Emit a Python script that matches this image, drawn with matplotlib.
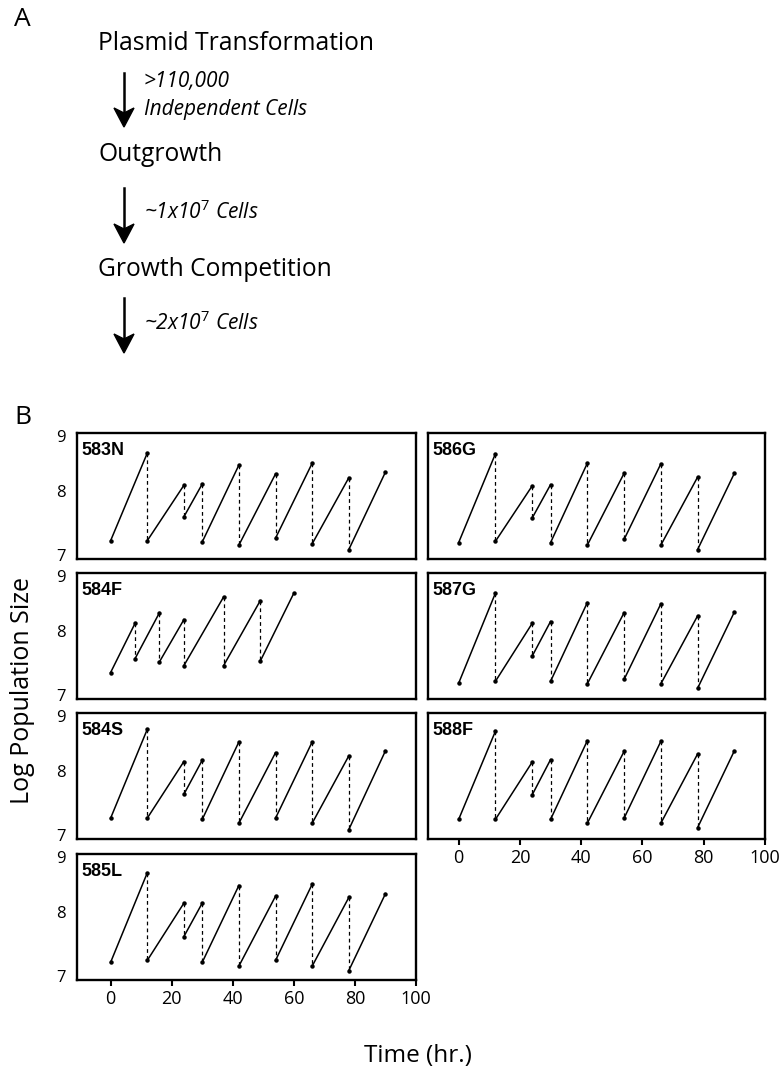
import numpy as np
import matplotlib.pyplot as plt
from matplotlib.transforms import ScaledTranslation

plt.rcParams['mathtext.fontset'] = 'custom'
plt.rcParams['mathtext.rm'] = 'Open Sans'
plt.rcParams['mathtext.it'] = 'Open Sans:italic'

W, H = 781, 1076

# sampling times (hr.)
times = [0, 12, 24, 30, 42, 54, 66, 78, 90]
times_584F = [0, 8, 16, 24, 37, 49, 60]

# log population right after each dilution (start of each growth period)
low_583N = [7.29, 7.29, 7.67, 7.27, 7.22, 7.33, 7.24, 7.15]
low_584F = [7.42, 7.64, 7.59, 7.53, 7.53, 7.60]
low_584S = [7.33, 7.33, 7.71, 7.31, 7.25, 7.33, 7.25, 7.15]
low_585L = [7.28, 7.31, 7.69, 7.28, 7.22, 7.31, 7.22, 7.15]
low_586G = [7.26, 7.28, 7.65, 7.26, 7.22, 7.31, 7.22, 7.15]
low_587G = [7.25, 7.28, 7.68, 7.28, 7.24, 7.31, 7.24, 7.17]
low_588F = [7.31, 7.31, 7.70, 7.31, 7.25, 7.33, 7.25, 7.18]

# log population at the end of each growth period (before dilution)
high_583N = [8.68, 8.17, 8.19, 8.49, 8.35, 8.52, 8.29, 8.38]
high_584F = [8.20, 8.37, 8.26, 8.62, 8.56, 8.68]
high_584S = [8.74, 8.23, 8.25, 8.54, 8.37, 8.54, 8.32, 8.40]
high_585L = [8.70, 8.22, 8.22, 8.50, 8.33, 8.52, 8.31, 8.37]
high_586G = [8.67, 8.16, 8.18, 8.52, 8.36, 8.51, 8.30, 8.36]
high_587G = [8.68, 8.20, 8.23, 8.53, 8.37, 8.51, 8.32, 8.38]
high_588F = [8.71, 8.22, 8.26, 8.56, 8.39, 8.55, 8.35, 8.40]

strains = ['583N', '584F', '584S', '585L', '586G', '587G', '588F']
lows = [low_583N, low_584F, low_584S, low_585L, low_586G, low_587G, low_588F]
highs = [high_583N, high_584F, high_584S, high_585L, high_586G, high_587G, high_588F]
strain_times = [times, times_584F, times, times, times, times, times]

fig = plt.figure(figsize=(W / 100, H / 100), dpi=100)


def px_axes(l, t, r, b):
    return fig.add_axes([l / W, 1 - b / H, (r - l) / W, (b - t) / H])


def fy(y):
    return 1 - y / H


rows = [(433, 559), (573, 699), (713, 839), (854, 980)]
cols = [(77, 416, -11), (428, 765, -10)]

slots = [(0, 0), (0, 1), (0, 2), (0, 3), (1, 0), (1, 1), (1, 2)]
bottom = {(0, 3), (1, 2)}
# vertical nudges (px, + is up) for the 7 / 8 / 9 labels so stacked panels don't collide
nudge = [4, 5, -3]

for name, lo, hi, t, (c, r) in zip(strains, lows, highs, strain_times, slots):
    l, rr, xmin = cols[c]
    top, bot = rows[r]
    ax = px_axes(l, top, rr, bot)
    for i in range(len(lo)):
        # growth period
        ax.plot([t[i], t[i + 1]], [lo[i], hi[i]], color='black', lw=1.1,
                marker='o', ms=2.2)
        # dilution
        if i + 1 < len(lo):
            ax.plot([t[i + 1], t[i + 1]], [hi[i], lo[i + 1]], color='black',
                    lw=0.9, ls=(0, (3, 2.5)))
    ax.set_xlim(xmin, 100)
    ax.set_ylim(7, 9)
    for s in ax.spines.values():
        s.set_linewidth(1.7)
    ax.set_yticks([7, 8, 9])
    ax.set_xticks([0, 20, 40, 60, 80, 100])
    ax.tick_params(axis='y', length=0, pad=8, labelsize=12)
    if c == 0:
        ax.set_yticklabels(['7', '8', '9'], family='Open Sans')
        for lab, dy in zip(ax.get_yticklabels(), nudge):
            lab.set_transform(lab.get_transform() +
                              ScaledTranslation(0, dy / 100, fig.dpi_scale_trans))
    else:
        ax.set_yticklabels([])
    if (c, r) in bottom:
        ax.tick_params(axis='x', length=4, width=1.5, direction='out',
                       labelsize=13, pad=3)
        ax.set_xticklabels(['0', '20', '40', '60', '80', '100'], family='Open Sans')
    else:
        ax.tick_params(axis='x', length=0)
        ax.set_xticklabels([])
    ax.text(0.012, 0.93, name, transform=ax.transAxes, ha='left', va='top',
            fontsize=13, fontweight='bold', family='Liberation Sans')

# panel A: workflow
main_font = dict(family='Open Sans', fontsize=17.7, va='center', ha='left')
note_font = dict(family='Open Sans', fontsize=15, style='italic', va='center', ha='left')

fig.text(14 / W, fy(20), 'A', family='Open Sans', fontsize=19, va='center')
fig.text(98 / W, fy(43), 'Plasmid Transformation', **main_font)
fig.text(98 / W, fy(155), 'Outgrowth', **main_font)
fig.text(98 / W, fy(269), 'Growth Competition', **main_font)
fig.text(144 / W, fy(82), '>110,000', **note_font)
fig.text(144 / W, fy(110), 'Independent Cells', **note_font)
fig.text(144 / W, fy(212), r'~1x10$^{\mathit{7}}$ Cells', **note_font)
fig.text(144 / W, fy(323), r'~2x10$^{\mathit{7}}$ Cells', **note_font)

# down arrows with a notched (stealth) head
for y0, y1 in [(73, 127), (188, 243), (298, 353)]:
    fig.add_artist(plt.Line2D([124 / W, 124 / W], [fy(y0), fy(y1 - 12)],
                              color='black', lw=1.8))
    head = [[114 / W, fy(y1 - 19)], [124 / W, fy(y1 - 14)],
            [134 / W, fy(y1 - 19)], [124 / W, fy(y1)]]
    fig.add_artist(plt.Polygon(head, closed=True, color='black',
                               transform=fig.transFigure))

fig.text(14 / W, fy(417), 'B', family='Open Sans', fontsize=19, va='center')
fig.text(23 / W, fy(690), 'Log Population Size', family='Open Sans',
         fontsize=18, rotation=90, va='center', ha='center')
fig.text(418 / W, fy(1056), 'Time (hr.)', family='Open Sans', fontsize=17.5,
         va='center', ha='center')

fig.savefig('out.png', dpi=100)
